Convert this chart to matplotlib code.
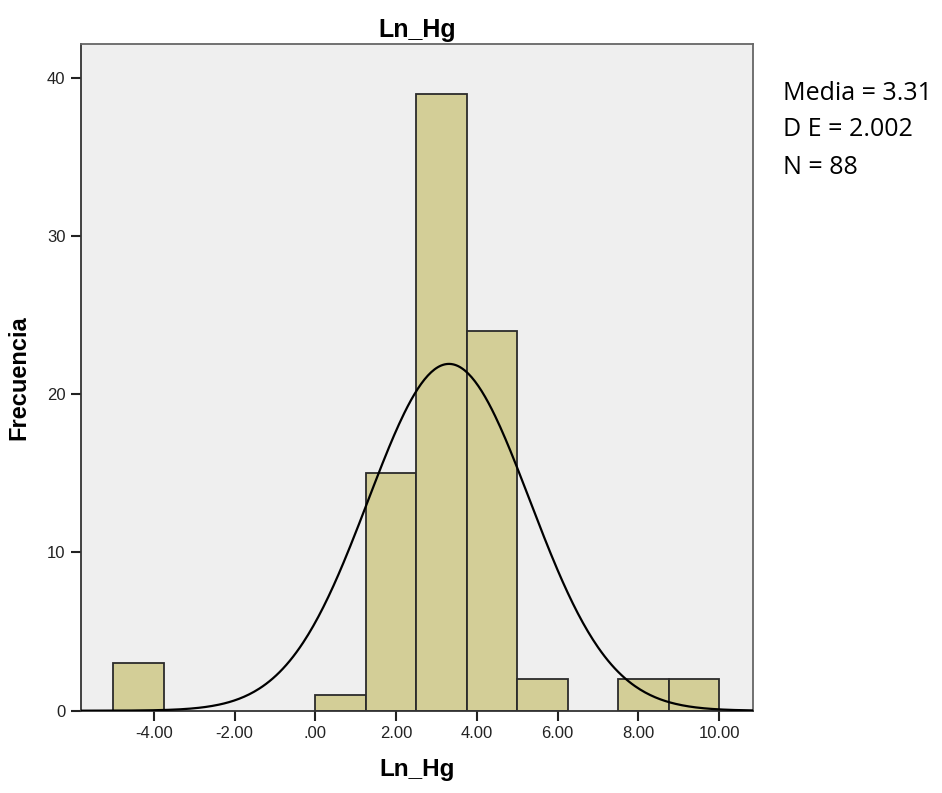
import numpy as np
import matplotlib
matplotlib.use("Agg")
from matplotlib import pyplot as plt

# histogram of Ln_Hg (bin width 1.25, starting at -5)
bin_left = [-5.0, -3.75, -2.5, -1.25, 0.0, 1.25, 2.5, 3.75, 5.0, 6.25, 7.5, 8.75]
counts = [3, 0, 0, 0, 1, 15, 39, 24, 2, 0, 2, 2]
bin_width = 1.25
media = 3.31
de = 2.002
n = 88
xticks = [-4, -2, 0, 2, 4, 6, 8, 10]
xtick_labels = ['-4.00', '-2.00', '.00', '2.00', '4.00', '6.00', '8.00', '10.00']
yticks = [0, 10, 20, 30, 40]

plt.rcParams['font.family'] = ['Liberation Sans', 'DejaVu Sans']

fig = plt.figure(figsize=(9.42, 7.93), dpi=100)
ax = fig.add_axes([0.0857, 0.1038, 0.7137, 0.8403])
ax.set_facecolor('#efefef')

for left, c in zip(bin_left, counts):
    if c > 0:
        ax.bar(left, c, width=bin_width, align='edge', color='#d3ce97',
               edgecolor='#2b2b2b', linewidth=1.3, zorder=2)

# normal curve
xs = np.linspace(-5.81, 10.84, 400)
ys = n * bin_width / (de * np.sqrt(2 * np.pi)) * np.exp(-0.5 * ((xs - media) / de) ** 2)
ax.plot(xs, ys, color='black', linewidth=1.6, zorder=3)

ax.set_xlim(-5.81, 10.84)
ax.set_ylim(0, 42.12)
ax.set_xticks(xticks)
ax.set_xticklabels(xtick_labels)
ax.set_yticks(yticks)
ax.tick_params(direction='out', length=7, width=1.5, labelsize=12, colors='#222222', pad=4)
for s in ax.spines.values():
    s.set_color('#333333')
    s.set_linewidth(1.3)
ax.spines['top'].set_color('#666666')
ax.spines['right'].set_color('#666666')

ax.set_title('Ln_Hg', fontsize=18, fontweight='bold', pad=5)
ax.set_xlabel('Ln_Hg', fontsize=17.5, fontweight='bold', labelpad=12)
ax.set_ylabel('Frecuencia', fontsize=17, fontweight='bold', labelpad=12)

stats = ['Media = 3.31', 'D E = 2.002', 'N = 88']
for i, t in enumerate(stats):
    fig.text(783 / 942, 1 - (93 + i * 37) / 793, t, fontsize=18,
             family=['Open Sans', 'DejaVu Sans'], va='center', ha='left')

fig.savefig('out.png', dpi=100)
